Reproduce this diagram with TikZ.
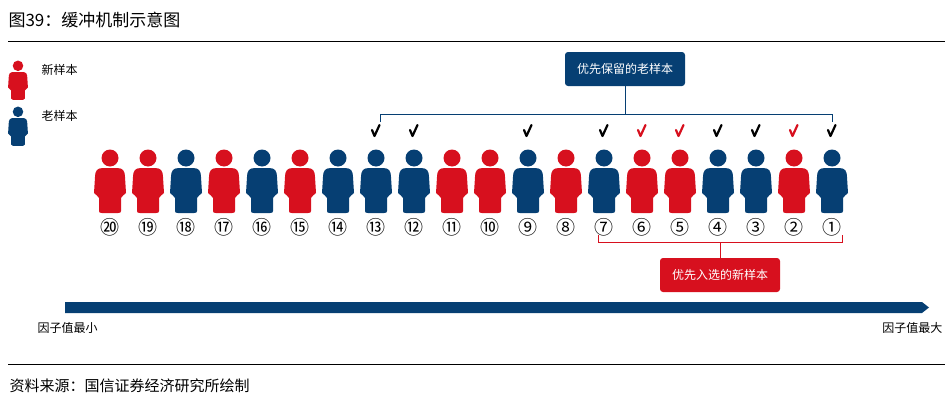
\documentclass[tikz,border=0pt]{standalone}
\usepackage{fontspec}
\setmainfont{Noto Sans CJK SC}
\usetikzlibrary{arrows.meta}
\definecolor{cred}{HTML}{D7101E}
\definecolor{cblue}{HTML}{063F73}
\tikzset{
  person/.pic={
    \fill (0,-10) circle (8.5);
    \fill (-7,0) .. controls (-13,0) and (-15,3) .. (-15,9)
      -- (-16,25) .. controls (-14,27) and (-12,28) .. (-11,30)
      -- (-11,43) .. controls (-11,44.5) and (-10,45) .. (-8,45)
      -- (8,45) .. controls (10,45) and (11,44.5) .. (11,43)
      -- (11,30) .. controls (12,28) and (14,27) .. (16,25)
      -- (15,9) .. controls (15,3) and (13,0) .. (7,0) -- cycle;
  },
  tick/.pic={
    \draw[line width=2.2pt,line cap=round,line join=round] (-4,-1) -- (-1.5,5) -- (3.5,-6);
  },
  lbl/.style={font=\fontsize{12}{14}\selectfont},
  num/.style={font=\fontsize{19}{21}\selectfont},
  tag/.style={rounded corners=3pt,text=white,font=\fontsize{12}{14}\selectfont,minimum height=34pt,inner xsep=12pt}
}
\begin{document}
\begin{tikzpicture}[x=1pt,y=-1pt]
\useasboundingbox (0,0) rectangle (952,415);
\node[anchor=west,font=\fontsize{17}{19}\selectfont] (title) at (5,20) {图39：缓冲机制示意图};
\draw[line width=0.8pt] (8,41) -- (945,41);
\draw[line width=0.8pt] (8,364) -- (945,364);
\node[anchor=west,font=\fontsize{15}{17}\selectfont] (src) at (6,386) {资料来源：国信证券经济研究所绘制};
% legend
\pic[color=cred,scale=0.62] at (18,72) {person};
\node[lbl,anchor=west] (lnew) at (38,70) {新样本};
\pic[color=cblue,scale=0.62] at (18,118) {person};
\node[lbl,anchor=west] (lold) at (38,116) {老样本};
% people
\foreach \n/\c [count=\i from 0] in {20/cred,19/cred,18/cblue,17/cred,16/cblue,15/cred,14/cblue,13/cblue,12/cblue,11/cred,10/cred,9/cblue,8/cred,7/cblue,6/cred,5/cred,4/cblue,3/cblue,2/cred,1/cblue}{
  \pgfmathsetmacro\xx{110+38.0*\i}
  \pic[color=\c] at (\xx,168) {person};
  \node[num] (n\n) at (\xx,227) {\ifcase\n\or ①\or ②\or ③\or ④\or ⑤\or ⑥\or ⑦\or ⑧\or ⑨\or ⑩\or ⑪\or ⑫\or ⑬\or ⑭\or ⑮\or ⑯\or ⑰\or ⑱\or ⑲\or ⑳\fi};
}
% checks
\foreach \i/\c in {7/black,8/black,11/black,13/black,14/cred,15/cred,16/black,17/black,18/cred,19/black}{
  \pgfmathsetmacro\xx{110+38.0*\i}
  \pic[color=\c] at (\xx,131) {tick};
}
% top bracket
\node[tag,fill=cblue] (old) at (625,69) {优先保留的老样本};
\draw[cblue,line width=1pt] (380,122) -- (380,114) -- (832,114) -- (832,122);
\draw[cblue,line width=1pt] (old.south) -- (625,114);
% bottom bracket
\node[tag,fill=cred] (new) at (720,275) {优先入选的新样本};
\draw[cred,line width=1pt] (598,235) -- (598,242) -- (842,242) -- (842,235);
\draw[cred,line width=1pt] (720,242) -- (new.north);
% axis
\fill[cblue] (65,302) -- (922,302) -- (929,307.5) -- (922,313) -- (65,313) -- cycle;
\node[lbl,anchor=west] (lmin) at (34,328) {因子值最小};
\node[lbl,anchor=east] (lmax) at (946,328) {因子值最大};
\end{tikzpicture}
\end{document}
